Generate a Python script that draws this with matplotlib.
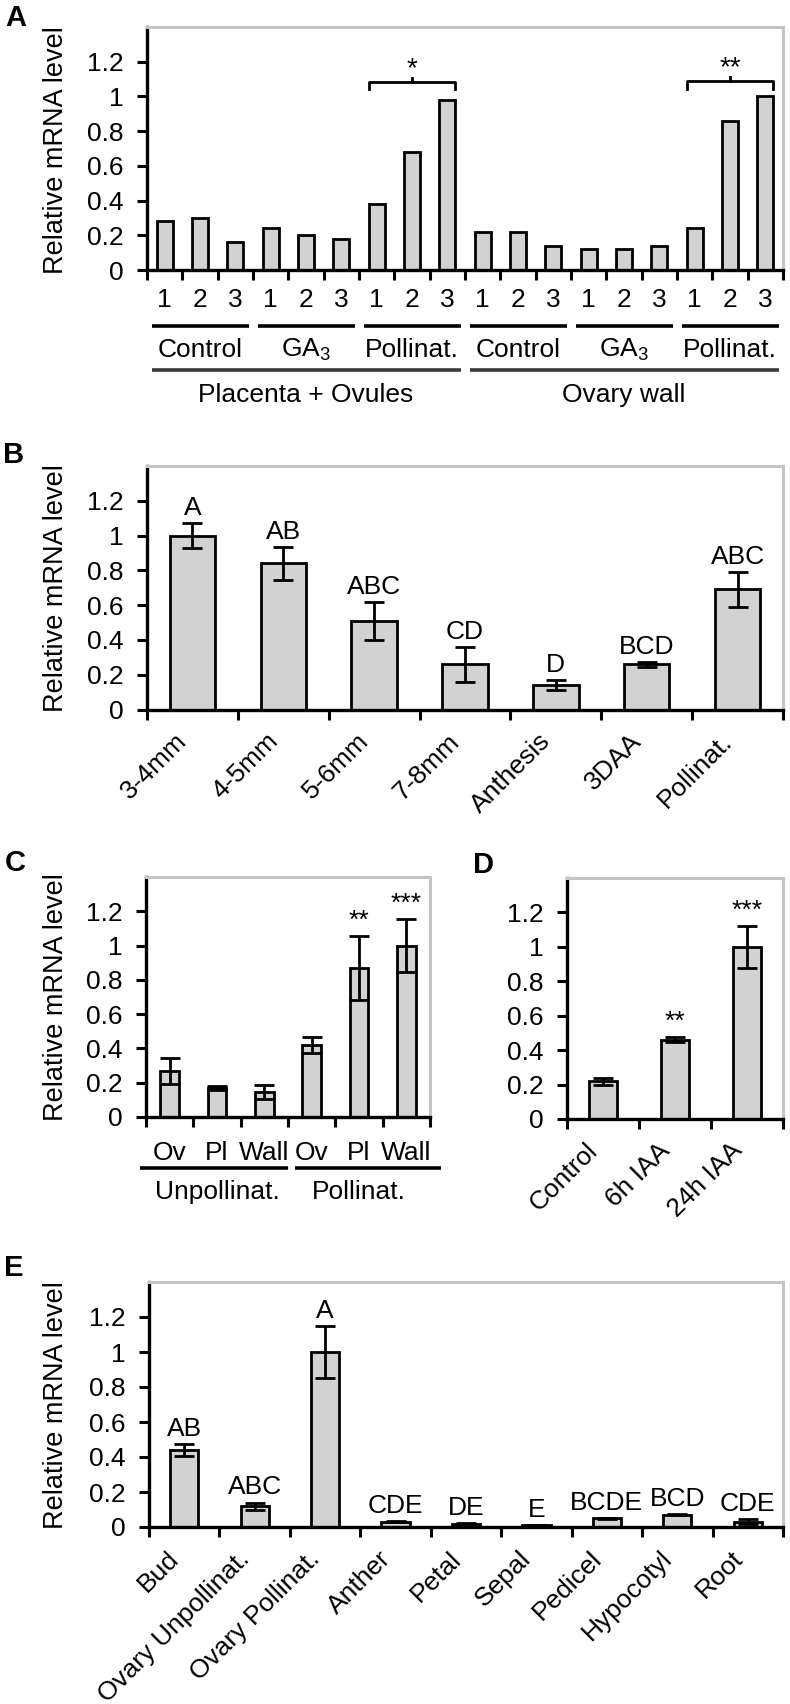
import matplotlib
matplotlib.use('Agg')
import matplotlib.pyplot as plt
import numpy as np
from matplotlib.transforms import blended_transform_factory

plt.rcParams['font.family'] = ['Liberation Sans', 'DejaVu Sans']
plt.rcParams['mathtext.fontset'] = 'custom'
plt.rcParams['mathtext.rm'] = 'Liberation Sans'
plt.rcParams['mathtext.it'] = 'Liberation Sans:italic'
plt.rcParams['mathtext.bf'] = 'Liberation Sans:bold'

# ---------------- data ----------------
a_numbers = ['1', '2', '3']
a_treatments = ['Control', 'GA$_3$', 'Pollinat.']
a_tissues = ['Placenta + Ovules', 'Ovary wall']
a_values = [0.28, 0.30, 0.16, 0.24, 0.20, 0.18, 0.38, 0.68, 0.98,
            0.22, 0.22, 0.14, 0.12, 0.12, 0.14, 0.24, 0.86, 1.00]
a_sig = ['*', '**']

b_cats = ['3-4mm', '4-5mm', '5-6mm', '7-8mm', 'Anthesis', '3DAA', 'Pollinat.']
b_values = [1.00, 0.84, 0.51, 0.26, 0.14, 0.26, 0.69]
b_errors = [0.07, 0.095, 0.11, 0.10, 0.03, 0.015, 0.10]
b_letters = ['A', 'AB', 'ABC', 'CD', 'D', 'BCD', 'ABC']

c_tissues = ['Ov', 'Pl', 'Wall']
c_groups = ['Unpollinat.', 'Pollinat.']
c_values = [0.27, 0.17, 0.145, 0.42, 0.87, 1.00]
c_errors = [0.075, 0.01, 0.04, 0.045, 0.185, 0.155]
c_stars = ['', '', '', '', '**', '***']

d_cats = ['Control', '6h IAA', '24h IAA']
d_values = [0.22, 0.46, 1.00]
d_errors = [0.02, 0.015, 0.12]
d_stars = ['', '**', '***']

e_cats = ['Bud', 'Ovary Unpollinat.', 'Ovary Pollinat.', 'Anther', 'Petal',
          'Sepal', 'Pedicel', 'Hypocotyl', 'Root']
e_values = [0.44, 0.12, 1.00, 0.03, 0.015, 0.01, 0.05, 0.07, 0.03]
e_errors = [0.035, 0.02, 0.15, 0.003, 0.01, 0.003, 0.003, 0.003, 0.015]
e_letters = ['AB', 'ABC', 'A', 'CDE', 'DE', 'E', 'BCDE', 'BCD', 'CDE']

yticks = [0, 0.2, 0.4, 0.6, 0.8, 1.0, 1.2]
ytick_labels = ['0', '0.2', '0.4', '0.6', '0.8', '1', '1.2']

# ---------------- style ----------------
W, H = 790, 1704
FS = 19
FS_YLAB = 19.5
BAR_COLOR = '#d2d2d2'
FRAME_GRAY = '#c4c4c4'

fig = plt.figure(figsize=(W / 100, H / 100), dpi=100)


def add_axes(left, right, top, bottom):
    return fig.add_axes([left / W, 1 - bottom / H, (right - left) / W, (bottom - top) / H])


def style(ax, n):
    ax.set_xlim(-0.5, n - 0.5)
    ax.set_ylim(0, 1.4)
    ax.set_yticks(yticks)
    ax.set_yticklabels(ytick_labels)
    ax.set_xticks(np.arange(n + 1) - 0.5)
    ax.set_xticklabels([])
    for s in ['left', 'bottom']:
        ax.spines[s].set_color('black')
        ax.spines[s].set_linewidth(2.4)
    for s in ['top', 'right']:
        ax.spines[s].set_color(FRAME_GRAY)
        ax.spines[s].set_linewidth(2.2)
    ax.tick_params(axis='both', direction='out', length=7, width=2.2,
                   labelsize=FS, pad=9, colors='black')
    ax.tick_params(axis='y', pad=10)


def bars(ax, values, width, errors=None):
    x = np.arange(len(values))
    ax.bar(x, values, width=width, color=BAR_COLOR, edgecolor='black',
           linewidth=2, zorder=2)
    if errors is not None:
        ax.errorbar(x, values, yerr=errors, fmt='none', ecolor='black',
                    elinewidth=2, capsize=7, capthick=2, zorder=3)


def top_labels(ax, values, errors, labels, fs=FS):
    for i, (v, e, lab) in enumerate(zip(values, errors, labels)):
        if lab:
            ax.annotate(lab, xy=(i, v + e), xytext=(0, 8), textcoords='offset pixels',
                        ha='center', va='baseline', fontsize=fs)


def rot_labels(ax, labels, dx=-4, dy=-33):
    tr = blended_transform_factory(ax.transData, ax.transAxes)
    for i, lab in enumerate(labels):
        ax.annotate(lab, xy=(i, 0), xycoords=tr, xytext=(dx, dy),
                    textcoords='offset pixels', rotation=45, ha='right', va='baseline',
                    rotation_mode='anchor', fontsize=FS, annotation_clip=False)


def ylab(y_center):
    fig.text(56 / W, 1 - y_center / H, 'Relative mRNA level', rotation=90,
             ha='center', va='center', fontsize=FS_YLAB)


def panel_letter(x, y, s):
    fig.text(x / W, 1 - y / H, s, fontsize=21, fontweight='bold', ha='center', va='center')


def yoff(px, h):
    return -px / h


# ---------------- Panel A ----------------
axA = add_axes(147, 783, 27, 270)
style(axA, len(a_values))
bars(axA, a_values, 0.45)
trA = blended_transform_factory(axA.transData, axA.transAxes)
hA = 243.0

for i in range(len(a_values)):
    axA.text(i, yoff(30, hA), a_numbers[i % 3], transform=trA, ha='center',
             va='center', fontsize=FS)
for g in range(6):
    b0 = 3 * g - 0.5
    axA.plot([b0 + 0.14, b0 + 2.9], [yoff(56, hA)] * 2, transform=trA, color='black',
             lw=2.6, clip_on=False, solid_capstyle='butt')
    axA.text(3 * g + 1, yoff(80, hA), a_treatments[g % 3], transform=trA,
             ha='center', va='center', fontsize=FS)
for t in range(2):
    b0 = 9 * t - 0.5
    axA.plot([b0 + 0.14, b0 + 8.9], [yoff(100, hA)] * 2, transform=trA, color='#3a3a3a',
             lw=2.6, clip_on=False, solid_capstyle='butt')
    axA.text(9 * t + 4, yoff(125, hA), a_tissues[t], transform=trA,
             ha='center', va='center', fontsize=FS)

# significance brackets
for (i0, i1, yb, star) in [(6, 8, 1.085, a_sig[0]), (15, 17, 1.09, a_sig[1])]:
    xl = i0 - 0.225
    xr = i1 + 0.225
    xm = (i0 + i1) / 2
    axA.plot([xl, xl, xr, xr], [yb - 0.045, yb, yb, yb - 0.045], color='black', lw=2,
             zorder=4, solid_joinstyle='round')
    axA.plot([xm, xm], [yb, yb + 0.022], color='black', lw=2, zorder=4)
    axA.annotate(star, xy=(xm, yb + 0.022), xytext=(0, 2), textcoords='offset pixels',
                 ha='center', va='baseline', fontsize=FS + 1)

ylab(150)
panel_letter(16, 18, 'A')

# ---------------- Panel B ----------------
axB = add_axes(147, 783, 466, 709.5)
style(axB, len(b_values))
bars(axB, b_values, 0.5, b_errors)
top_labels(axB, b_values, b_errors, b_letters)
rot_labels(axB, b_cats)
ylab(588)
panel_letter(14, 455, 'B')

# ---------------- Panel C ----------------
axC = add_axes(146, 430, 877, 1117)
style(axC, len(c_values))
bars(axC, c_values, 0.4, c_errors)
top_labels(axC, c_values, c_errors, c_stars)
trC = blended_transform_factory(axC.transData, axC.transAxes)
hC = 240.0
for i in range(len(c_values)):
    axC.text(i, yoff(36, hC), c_tissues[i % 3], transform=trC, ha='center',
             va='center', fontsize=FS)
for g in range(2):
    b0 = 3 * g - 0.5
    axC.plot([b0 - 0.13 + 0.27 * g, b0 + 2.99 + 0.24 * g], [yoff(51, hC)] * 2, transform=trC,
             color='black', lw=2.6, clip_on=False, solid_capstyle='butt')
    axC.text(3 * g + 1, yoff(75, hC), c_groups[g], transform=trC, ha='center',
             va='center', fontsize=FS)
ylab(997)
panel_letter(15, 863, 'C')

# ---------------- Panel D ----------------
axD = add_axes(567, 783, 878, 1119)
style(axD, len(d_values))
bars(axD, d_values, 0.4, d_errors)
top_labels(axD, d_values, d_errors, d_stars)
rot_labels(axD, d_cats)
panel_letter(483, 865, 'D')

# ---------------- Panel E ----------------
axE = add_axes(149, 783, 1282, 1527)
style(axE, len(e_values))
bars(axE, e_values, 0.4, e_errors)
top_labels(axE, e_values, e_errors, e_letters)
rot_labels(axE, e_cats)
ylab(1405)
panel_letter(14, 1268, 'E')

fig.savefig('out.png', dpi=100, facecolor='white')
